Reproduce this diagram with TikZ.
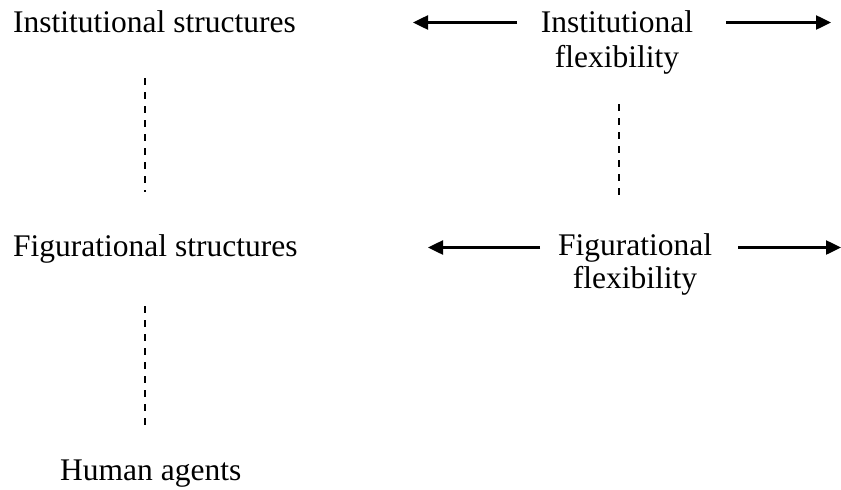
\documentclass[tikz,border=0pt]{standalone}
\usepackage{fontspec}
\setmainfont{Liberation Serif}
\usetikzlibrary{arrows.meta}
\begin{document}
\begin{tikzpicture}[x=1pt,y=-1pt,
  lbl/.style={inner sep=0pt, font=\fontsize{31.5}{35}\selectfont},
  flex/.style={lbl, align=center, anchor=north},
  harrow/.style={line width=2.5pt, -{Triangle[length=15pt,width=14pt]}},
  dline/.style={line width=1.6pt, dash pattern=on 7pt off 7pt}]
\useasboundingbox (0,0) rectangle (841,490);
% labels
\node[lbl, anchor=base west] (is) at (13,32) {Institutional structures};
\node[lbl, anchor=base west] (fs) at (13,256) {Figurational structures};
\node[lbl, anchor=base west] (ha) at (60,480) {Human agents};
\node[flex] (if) at (617,10.5) {Institutional\\flexibility};
\node[flex, font=\fontsize{31.5}{33}\selectfont] (ff) at (635,233.5) {Figurational\\flexibility};
% arrow coordinates
\coordinate (ifL) at (517,22.5);
\coordinate (ifLt) at (413,22.5);
\coordinate (ifR) at (726,22.5);
\coordinate (ifRt) at (831,22.5);
\coordinate (ffL) at (540,247.5);
\coordinate (ffLt) at (428,247.5);
\coordinate (ffR) at (738,247.5);
\coordinate (ffRt) at (841,247.5);
\draw[harrow] (ifL) -- (ifLt);
\draw[harrow] (ifR) -- (ifRt);
\draw[harrow] (ffL) -- (ffLt);
\draw[harrow] (ffR) -- (ffRt);
% dashed links
\coordinate (d1a) at (145,78);
\coordinate (d1b) at (145,192);
\coordinate (d2a) at (619,104);
\coordinate (d2b) at (619,197);
\coordinate (d3a) at (145,306);
\coordinate (d3b) at (145,427);
\draw[dline] (d1a) -- (d1b);
\draw[dline] (d2a) -- (d2b);
\draw[dline] (d3a) -- (d3b);
\end{tikzpicture}
\end{document}
